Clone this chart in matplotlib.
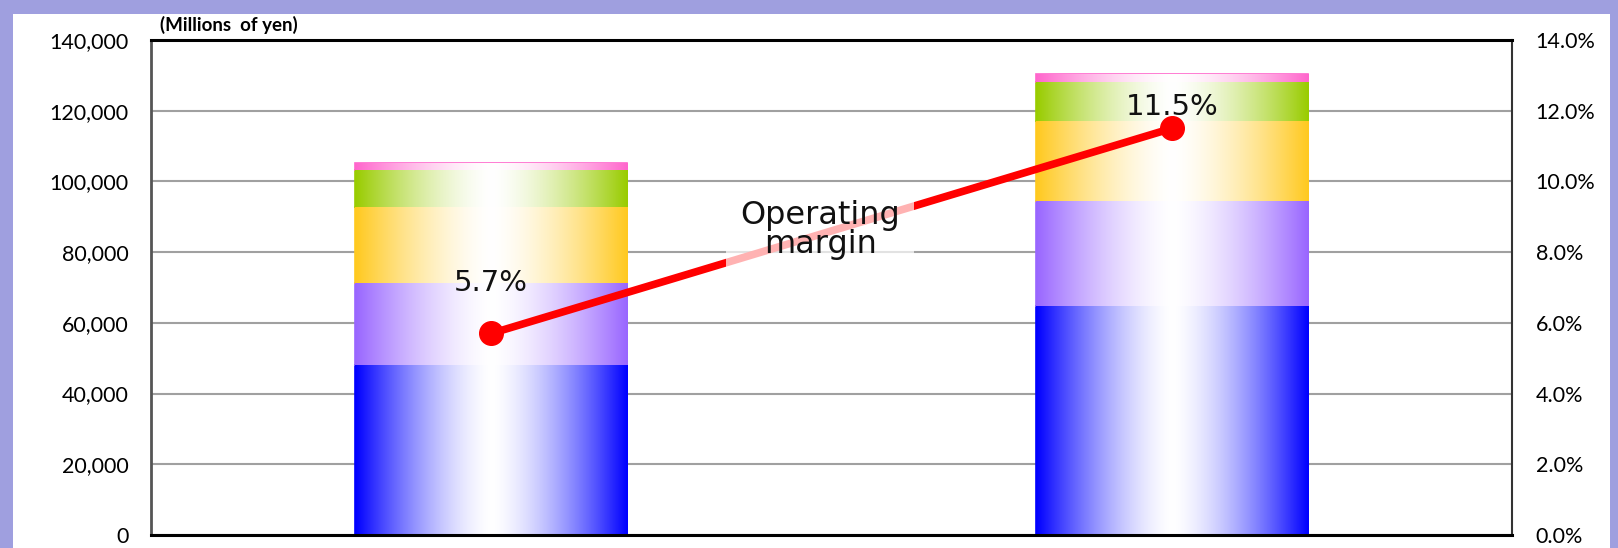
import numpy as np
import matplotlib
matplotlib.use("Agg")
import matplotlib.pyplot as plt
from matplotlib.colors import to_rgb
from matplotlib.patches import Rectangle

# data (millions of yen), stacked bottom -> top
periods = ["FY1", "FY2"]
seg_blue = [48.0, 64.8]
seg_purple = [23.4, 29.7]
seg_yellow = [21.4, 22.6]
seg_green = [10.4, 11.1]
seg_pink = [1.9, 2.1]
op_margin = [5.7, 11.5]  # %

left_ticks = np.arange(0, 140001, 20000)
right_ticks = np.arange(0, 14.01, 2)

seg_values = [seg_blue, seg_purple, seg_yellow, seg_green, seg_pink]
seg_colors = ["#0000FF", "#9966FF", "#FFC91F", "#99CC00", "#FF66CC"]

W, H = 1618, 548
fig = plt.figure(figsize=(W / 100, H / 100), dpi=100, facecolor="#9F9FDF")
# white slide panel inside lavender frame
fig.patches.append(Rectangle((13 / W, 0), (1610 - 13) / W, (H - 14) / H,
                             transform=fig.transFigure, facecolor="white",
                             edgecolor="none", zorder=-10))

ax = fig.add_axes([151 / W, (H - 535) / H, (1512 - 151) / W, (535 - 40) / H])
ax.set_facecolor("none")

x = np.arange(len(periods))
width = 0.4
n = 200
t = np.abs(np.linspace(-1, 1, n))
f = t ** 1.5

bottom = np.zeros(len(periods))
for vals, col in zip(seg_values, seg_colors):
    v = np.array(vals) * 1000
    bars = ax.bar(x, v, width, bottom=bottom, color=col, edgecolor=col,
                  linewidth=1.2, zorder=2)
    rgb = np.array(to_rgb(col))
    grad = (1 - f)[:, None] * np.ones(3) + f[:, None] * rgb
    for b in bars:
        x0, y0 = b.get_x(), b.get_y()
        ax.imshow(grad[None, :, :], extent=(x0, x0 + b.get_width(), y0, y0 + b.get_height()),
                  aspect="auto", interpolation="bilinear", zorder=2.5)
    bottom += v

ax.set_xlim(-0.5, 1.5)
ax.set_ylim(0, 140000)
ax.set_yticks(left_ticks)
ax.set_yticklabels([f"{v:,.0f}" for v in left_ticks], fontsize=15.5, family="Lato")
ax.set_xticks([])
ax.tick_params(axis="y", length=0, pad=16)
ax.yaxis.grid(True, color="#A0A0A0", lw=1.5, zorder=1)
ax.set_axisbelow(True)
ax.spines["top"].set_color("black")
ax.spines["top"].set_linewidth(2.2)
ax.spines["bottom"].set_color("black")
ax.spines["bottom"].set_linewidth(2.2)
ax.spines["left"].set_color("#555555")
ax.spines["left"].set_linewidth(2)
ax.spines["right"].set_color("#333333")
ax.spines["right"].set_linewidth(1.5)

ax2 = ax.twinx()
ax2.set_ylim(0, 14)
ax2.set_yticks(right_ticks)
ax2.set_yticklabels([f"{v:.1f}%" for v in right_ticks], fontsize=15.5, family="Lato")
ax2.tick_params(axis="y", length=0, pad=17)
for s in ax2.spines.values():
    s.set_visible(False)

ax2.plot(x, op_margin, "-o", color="#FF0000", lw=5.5, markersize=17, zorder=3)
for xi, yi, dy in zip(x, op_margin, [50, 21]):
    ax2.annotate(f"{yi:.1f}%", (xi, yi), xytext=(0, dy), textcoords="offset pixels",
                 ha="center", va="center", fontsize=21, color="#111111", zorder=4)

ax2.text(0.4916, 0.616, "Operating\nmargin", transform=ax2.transAxes,
         ha="center", va="center", fontsize=23, color="#111111", linespacing=0.9,
         zorder=5,
         bbox=dict(boxstyle="square,pad=0.45", facecolor="white", alpha=0.7,
                   edgecolor="none"))

fig.text(160 / W, 1 - 25 / H, "(Millions  of yen)", ha="left", va="center",
         fontsize=13.5, fontweight="bold", family="Lato")

fig.savefig("out.png", dpi=100, facecolor=fig.get_facecolor())
